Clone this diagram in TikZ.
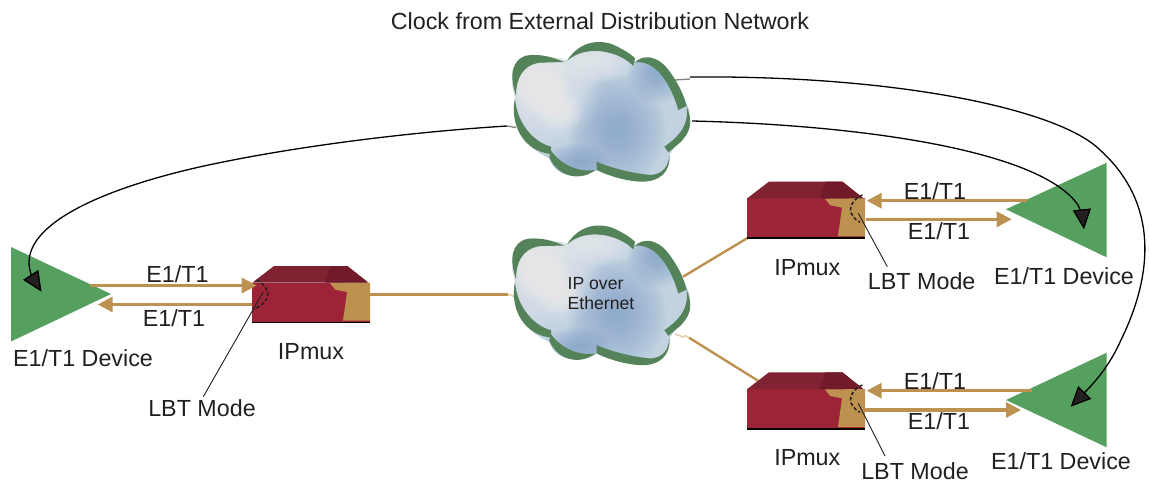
\documentclass[tikz,border=0pt]{standalone}
\usepackage{fontspec}
\setmainfont{Liberation Sans}
\usetikzlibrary{arrows.meta}
\definecolor{tanc}{HTML}{BD914F}
\definecolor{palet}{HTML}{E3CFA8}
\definecolor{devgreen}{HTML}{559F5F}
\definecolor{cloudgreen}{HTML}{54835A}
\definecolor{boxfront}{HTML}{9C2436}
\definecolor{boxtop}{HTML}{812232}
\definecolor{boxtopd}{HTML}{711A2A}
\definecolor{inkc}{HTML}{231F20}
\definecolor{cloudbase}{HTML}{C2D2E0}
\definecolor{cloudblue}{HTML}{7F9FCB}
\definecolor{cloudwhite}{HTML}{F8F6F8}
\newcommand{\blob}[5]{%
  \foreach \k in {1.0,0.95,...,0.05}{%
    \fill[#5,opacity=0.055] (#1,#2) ellipse [x radius=\k*#3,y radius=\k*#4];
  }}
\tikzset{
  lbl/.style={font=\fontsize{23.3}{28}\selectfont,text=inkc,inner sep=0pt,text height=16.7pt,text depth=0pt},
  tanline/.style={draw=tanc,line width=2.4pt},
  paleline/.style={draw=palet,line width=1.6pt},
  grayline/.style={draw=gray,line width=1.3pt},
  tanarrow/.style={draw=tanc,line width=3.2pt,-{Triangle[length=15pt,width=15pt,fill=tanc]}},
  clockline/.style={draw=black,line width=1.3pt},
  clockarrow/.style={clockline,-{Triangle[length=20pt,width=18pt,fill=inkc]}},
  leader/.style={draw=inkc,line width=0.9pt},
  lbtarc/.style={draw=inkc,line width=1.5pt,dash pattern=on 3.5pt off 2.2pt},
  device/.style={fill=devgreen,draw=none},
  crescent/.style={fill=cloudgreen,draw=none},
  cloud/.pic={
    \begin{scope}
      \clip (262,90) .. controls (290,40) and (400,30) .. (465,95)
        .. controls (540,70) and (590,150) .. (628,240)
        .. controls (630,300) and (590,340) .. (570,372)
        .. controls (570,420) and (540,445) .. (480,440)
        .. controls (430,440) and (380,425) .. (350,420)
        .. controls (310,445) and (230,450) .. (208,385)
        .. controls (150,360) and (100,310) .. (105,200)
        .. controls (80,130) and (110,70) .. (160,75)
        .. controls (190,75) and (230,85) .. (262,90) -- cycle;
      \fill[cloudbase] (0,0) rectangle (720,480);
      \blob{410}{300}{150}{170}{cloudblue}
      \blob{530}{130}{90}{90}{cloudblue}
      \blob{290}{400}{100}{60}{cloudblue}
      \blob{190}{180}{170}{170}{cloudwhite}
      \blob{345}{90}{130}{70}{cloudwhite}
      \blob{240}{245}{70}{60}{cloudwhite}
      \blob{170}{140}{100}{80}{cloudwhite}
      \blob{190}{190}{80}{70}{cloudwhite}
    \end{scope}
    \fill[crescent] (252,96) .. controls (210,78) and (170,70) .. (135,78) .. controls (100,90) and (85,130) .. (108,197)
      .. controls (108,150) and (125,105) .. (180,98) -- cycle;
    \fill[crescent] (262,92) .. controls (290,45) and (340,25) .. (395,42) .. controls (425,55) and (450,70) .. (465,85) -- (460,108)
      .. controls (420,65) and (320,40) .. (262,92) -- cycle;
    \fill[crescent] (465,97) .. controls (490,72) and (530,78) .. (560,113) .. controls (590,150) and (610,190) .. (620,228) -- (595,240)
      .. controls (575,170) and (530,88) .. (465,97) -- cycle;
    \fill[crescent] (620,230) .. controls (642,280) and (628,310) .. (600,338) -- (565,367) -- (553,350)
      .. controls (590,325) and (628,290) .. (620,230) -- cycle;
    \fill[crescent] (350,395) .. controls (400,417) and (470,432) .. (515,435) .. controls (550,430) and (565,410) .. (568,375)
      .. controls (572,425) and (540,457) .. (480,455) .. controls (430,452) and (380,435) .. (350,420) -- cycle;
    \fill[crescent] (213,362) .. controls (240,400) and (290,428) .. (345,420) .. controls (310,450) and (240,450) .. (208,382) -- cycle;
    \fill[crescent] (105,205) .. controls (112,290) and (170,340) .. (213,350) -- (213,372)
      .. controls (135,365) and (88,290) .. (105,205) -- cycle;
  },
  ipmux/.pic={
    \fill[black] (0,38) rectangle (117.7,40.5);
    \fill[boxfront] (0,0) rectangle (117.7,39);
    \fill[boxtop] (0,0) -- (21.7,-16.7) -- (95,-16.7) -- (116,0) -- cycle;
    \fill[boxtopd] (72.7,0) -- (77.7,-16.7) -- (95,-16.7) -- (116,0) -- cycle;
    \fill[tanc] (77.7,0.5) -- (83,7) -- (94.7,9.3) -- (90.7,38) -- (117.7,38) -- (117.7,0) -- cycle;
  }
}
\begin{document}
\begin{tikzpicture}[x=1pt,y=-1pt]
\useasboundingbox (0,0) rectangle (1149,482);
% devices
\fill[device] (11,247) -- (111,294) -- (11,341.5) -- cycle;
\fill[device] (1106.7,162.7) -- (1006,209.3) -- (1106.7,257.3) -- cycle;
\fill[device] (1106.7,352.7) -- (1006,400) -- (1106.7,447.3) -- cycle;
% anchors
\coordinate (cTopL) at (507,126);
\coordinate (cTopR) at (692,121);
\coordinate (cTopRU) at (675,80);
\coordinate (d1tip) at (41.5,291.7);
\coordinate (d2tip) at (1084,229.3);
\coordinate (d3tip) at (1070.7,406.7);
\coordinate (mL) at (508,294.5);
\coordinate (mRU) at (683,276.7);
\coordinate (mRL) at (689,337.7);
\coordinate (b1R) at (370,294.5);
\coordinate (b2L) at (747.5,238);
\coordinate (b3L) at (758,380.7);
% clock curves
\draw[grayline] (cTopL) -- (516,127.5);
\draw[grayline] (675,80) -- (690,79);
\draw[clockarrow] (cTopL) .. controls (410,132) and (300,146) .. (216.7,163.3) .. controls (130,181) and (30,215) .. (29,262) .. controls (29,272) and (34,280) .. (d1tip);
\draw[clockarrow] (cTopR) .. controls (860,125) and (1040,150) .. (1078,205) .. controls (1081,211) and (1083,220) .. (d2tip);
\draw[clockarrow] (690,77) .. controls (900,75) and (1060,110) .. (1100,150) .. controls (1150,195) and (1160,260) .. (1121,340) .. controls (1110,365) and (1095,382) .. (d3tip);
% links to middle cloud
\draw[tanline] (b1R) -- (mL);
\draw[paleline] (mL) -- (515,296.5);
\draw[tanline] (b2L) -- (mRU);
\draw[paleline] (mRU) -- (678,279);
\draw[tanline] (b3L) -- (mRL);
\draw[paleline] (mRL) -- (685,335.5) -- (683,337) -- (675,334);
% clouds
\pic at (480,30) [scale=1/3] {cloud};
\pic at (480,213.5) [scale=1/3] {cloud};
% boxes
\pic at (252.3,282.7) {ipmux};
\pic at (747.3,198.3) {ipmux};
\pic at (747.3,389) {ipmux};
% tan arrows
\coordinate (a1s) at (90,285.5); \coordinate (a1e) at (256.7,285.5);
\coordinate (a2s) at (252,304.5); \coordinate (a2e) at (97.7,304.5);
\coordinate (a3s) at (1026.7,200.7); \coordinate (a3e) at (866.7,200.7);
\coordinate (a4s) at (866,219.3); \coordinate (a4e) at (1011.7,219.3);
\coordinate (a5s) at (1031.7,390.7); \coordinate (a5e) at (866.7,390.7);
\coordinate (a6s) at (864,410); \coordinate (a6e) at (1021,410);
\draw[tanarrow] (a1s) -- (a1e);
\draw[tanarrow] (a2s) -- (a2e);
\draw[tanarrow] (a3s) -- (a3e);
\draw[tanarrow] (a4s) -- (a4e);
\draw[tanarrow] (a5s) -- (a5e);
\draw[tanarrow] (a6s) -- (a6e);
% LBT arcs
\draw[lbtarc] (256.7,280) .. controls (272,288) and (272,302) .. (253.3,309.3);
\draw[lbtarc] (862.3,195) .. controls (846,203) and (848,216) .. (860,222.3);
\draw[lbtarc] (862.3,385) .. controls (846,393) and (848,406) .. (860,412.3);
% labels
\node[lbl] (clk) at (600,21) {Clock from External Distribution Network};
\node[lbl] (e1) at (177.5,274) {E1/T1};
\node[lbl] (e2) at (174,318.5) {E1/T1};
\node[lbl] (d1) at (83,358.5) {E1/T1 Device};
\node[lbl] (ip1) at (311,351.5) {IPmux};
\node[lbl] (lbt1) at (202,408) {LBT Mode};
\node[lbl] (e3) at (935,190.7) {E1/T1};
\node[lbl] (e4) at (939,231) {E1/T1};
\node[lbl] (ip2) at (807.3,267) {IPmux};
\node[lbl] (lbt2) at (921.7,281) {LBT Mode};
\node[lbl] (d2) at (1064,276) {E1/T1 Device};
\node[lbl] (e5) at (935,380.7) {E1/T1};
\node[lbl] (e6) at (939,421) {E1/T1};
\node[lbl] (ip3) at (807.3,457) {IPmux};
\node[lbl] (lbt3) at (915,471) {LBT Mode};
\node[lbl] (d3) at (1061,460.7) {E1/T1 Device};
\node[font=\fontsize{17.6}{20}\selectfont,text=inkc,inner sep=0pt,align=left,anchor=north west] (ipe) at (567.5,277) {IP over\\Ethernet};
% leaders
\coordinate (l1) at (263.3,291.7); \coordinate (l1e) at (203.3,396.7);
\coordinate (l2) at (858.3,213.3); \coordinate (l2e) at (887.3,266.7);
\coordinate (l3) at (858.3,403.3); \coordinate (l3e) at (885,456);
\draw[leader] (l1) -- (l1e);
\draw[leader] (l2) -- (l2e);
\draw[leader] (l3) -- (l3e);
\end{tikzpicture}
\end{document}
